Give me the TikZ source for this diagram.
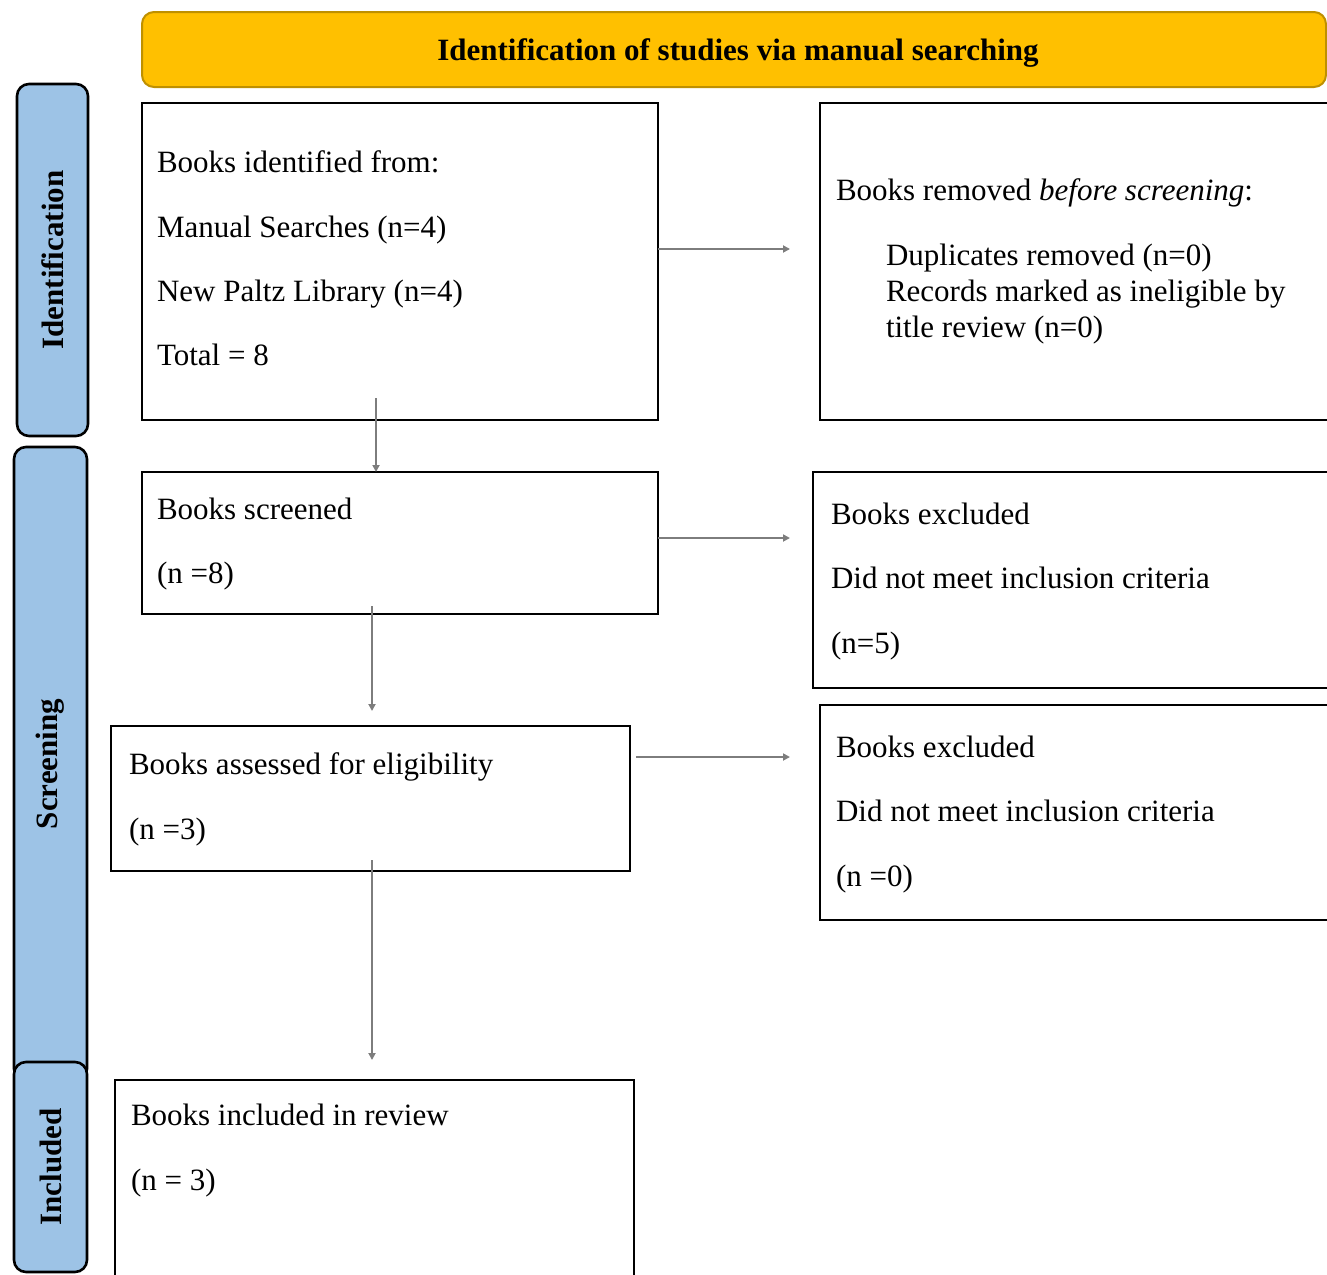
\documentclass[tikz,border=0pt]{standalone}
\usepackage{fontspec}
\setmainfont{Liberation Serif}
\usetikzlibrary{arrows.meta}
\definecolor{bannerfill}{RGB}{255,192,0}
\definecolor{bannerdraw}{RGB}{191,144,0}
\definecolor{barfill}{RGB}{157,195,230}
\definecolor{arrowgray}{RGB}{125,125,125}
\begin{document}
\begin{tikzpicture}[x=1pt,y=-1pt,
  every node/.style={inner sep=0pt, outer sep=0pt},
  txt/.style={font=\fontsize{31}{36}\selectfont, anchor=base west, text=black},
  boxshape/.style={draw=black, line width=2.6pt, anchor=north west},
  banner/.style={draw=bannerdraw, fill=bannerfill, line width=2pt, rounded corners=12pt},
  titletxt/.style={font=\fontsize{31}{36}\selectfont\bfseries, anchor=base, text=black},
  bar/.style={draw=black, fill=barfill, line width=2.6pt, rounded corners=12pt, rotate=90,
     font=\fontsize{31}{36}\selectfont\bfseries},
  arr/.style={draw=arrowgray, line width=1.8pt, -{Triangle[length=7pt,width=7pt]}}
]
\useasboundingbox (0,0) rectangle (1327,1274);
\clip (0,0) rectangle (1327,1274);

% banner
\node[banner, minimum width=1184pt, minimum height=75pt] (ban) at (734,49.5) {};
\node[titletxt] (title) at (738,60) {Identification of studies via manual searching};

% side bars
\node[bar, minimum width=352pt, minimum height=71pt] (barI) at (52.5,260) {Identification};
\node[bar, minimum width=634pt, minimum height=73pt] (barS) at (50.5,764) {Screening};
\node[bar, minimum width=210pt, minimum height=73pt] (barN) at (50.5,1167) {Included};

% boxes
\node[boxshape, minimum width=516pt, minimum height=317pt] (b1) at (142,103) {};
\node[boxshape, minimum width=520pt, minimum height=317pt] (b2) at (820,103) {};
\node[boxshape, minimum width=516pt, minimum height=142pt] (b3) at (142,472) {};
\node[boxshape, minimum width=527pt, minimum height=216pt] (b4) at (813,472) {};
\node[boxshape, minimum width=519pt, minimum height=145pt] (b5) at (111,726) {};
\node[boxshape, minimum width=520pt, minimum height=215pt] (b6) at (820,705) {};
\node[boxshape, minimum width=519pt, minimum height=240pt] (b7) at (115,1080) {};

% texts box 1
\node[txt] (t1a) at (157,172.5) {Books identified from:};
\node[txt] (t1b) at (157,237) {Manual Searches (n=4)};
\node[txt] (t1c) at (157,301) {New Paltz Library (n=4)};
\node[txt] (t1d) at (157,365) {Total = 8};

% texts box 2
\node[txt] (t2a) at (836,200) {Books removed \textit{before screening}:};
\node[txt] (t2b) at (886,265) {Duplicates removed (n=0)};
\node[txt] (t2c) at (886,301) {Records marked as ineligible by};
\node[txt] (t2d) at (886,337) {title review (n=0)};

% texts box 3
\node[txt] (t3a) at (157,519) {Books screened};
\node[txt] (t3b) at (157,583) {(n =8)};

% texts box 4
\node[txt] (t4a) at (831,524) {Books excluded};
\node[txt] (t4b) at (831,588) {Did not meet inclusion criteria};
\node[txt] (t4c) at (831,653) {(n=5)};

% texts box 5
\node[txt] (t5a) at (129,774) {Books assessed for eligibility};
\node[txt] (t5b) at (129,839) {(n =3)};

% texts box 6
\node[txt] (t6a) at (836,757) {Books excluded};
\node[txt] (t6b) at (836,821) {Did not meet inclusion criteria};
\node[txt] (t6c) at (836,886) {(n =0)};

% texts box 7
\node[txt] (t7a) at (131,1125) {Books included in review};
\node[txt] (t7b) at (131,1190) {(n = 3)};

% connector end points
\coordinate (a1s) at (b1.east |- 0,249);
\coordinate (a1e) at (790,249);
\coordinate (a2s) at (376,398);
\coordinate (a2e) at (376,472);
\coordinate (a3s) at (b3.east |- 0,538);
\coordinate (a3e) at (790,538);
\coordinate (a4s) at (372,606);
\coordinate (a4e) at (372,711);
\coordinate (a5s) at (636,757);
\coordinate (a5e) at (790,757);
\coordinate (a6s) at (372,860);
\coordinate (a6e) at (372,1060);

\draw[arr] (a1s) -- (a1e);
\draw[arr] (a2s) -- (a2e);
\draw[arr] (a3s) -- (a3e);
\draw[arr] (a4s) -- (a4e);
\draw[arr] (a5s) -- (a5e);
\draw[arr] (a6s) -- (a6e);
\end{tikzpicture}
\end{document}
